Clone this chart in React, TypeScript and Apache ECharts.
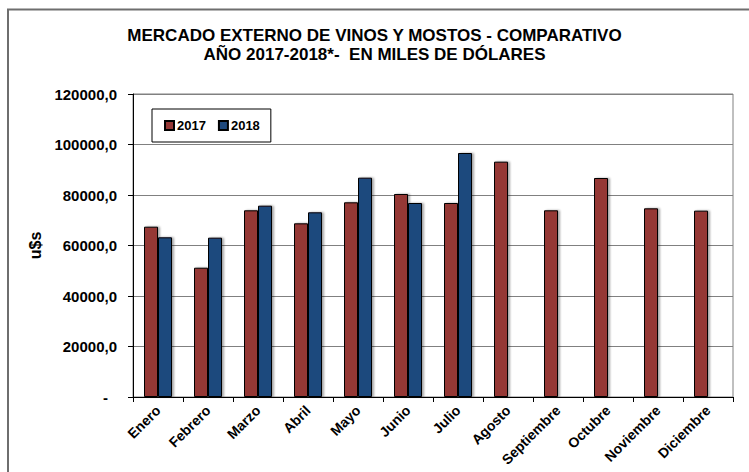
import React, { useEffect, useRef } from "react";
import * as echarts from "echarts";

const months = ["Enero", "Febrero", "Marzo", "Abril", "Mayo", "Junio", "Julio", "Agosto", "Septiembre", "Octubre", "Noviembre", "Diciembre"];
const values2017 = [67450, 51200, 73930, 68780, 77100, 80400, 76830, 93200, 73930, 86730, 74720, 73800];
const values2018 = [63240, 63100, 75770, 73140, 86860, 76830, 96630, null, null, null, null, null];
const seriesNames = ["2017", "2018"];
const titleLines = ["MERCADO EXTERNO DE VINOS Y MOSTOS - COMPARATIVO", "AÑO 2017-2018*-  EN MILES DE DÓLARES"];
const yAxisName = "u$s";

const FONT = "'Liberation Sans', Arial, sans-serif";

export default function App() {
  const ref = useRef<HTMLDivElement>(null);
  useEffect(() => {
    document.body.style.margin = "0";
    const chart = echarts.init(ref.current!, null, { renderer: "svg" });
    const barStyle = (color: string) => ({
      color,
      borderColor: "#000",
      borderWidth: 1,
      shadowColor: "rgba(0,0,0,0.35)",
      shadowOffsetX: 2,
      shadowOffsetY: 0,
      shadowBlur: 2,
    });
    chart.setOption({
      animation: false,
      backgroundColor: "#fff",
      textStyle: { fontFamily: FONT },
      title: {
        text: titleLines.join("\n"),
        left: "center",
        top: 21,
        textStyle: { fontSize: 17, fontWeight: "bold", color: "#000", lineHeight: 19, fontFamily: FONT },
      },
      graphic: [
        {
          type: "rect",
          shape: { x: 8, y: 9.5, width: 900, height: 700 },
          style: { fill: "none", stroke: "#6e6e6e", lineWidth: 2 },
          silent: true,
          z: 100,
        },
      ],
      legend: {
        left: 152,
        top: 109,
        orient: "horizontal",
        padding: [10, 11, 10, 12],
        itemWidth: 9,
        itemHeight: 9,
        itemGap: 12,
        borderColor: "#000",
        borderWidth: 1,
        backgroundColor: "#fff",
        icon: "rect",
        textStyle: { fontSize: 13, fontWeight: "bold", color: "#000", fontFamily: FONT, padding: [0, 0, 0, -2] },
        data: seriesNames,
      },
      grid: {
        left: 133,
        right: 16,
        top: 94,
        bottom: 75,
        show: true,
        borderColor: "#808080",
        borderWidth: 1,
      },
      xAxis: {
        type: "category",
        data: months,
        boundaryGap: true,
        axisLine: { show: true, lineStyle: { color: "#000", width: 1 } },
        axisTick: { show: true, length: 5, lineStyle: { color: "#000" } },
        axisLabel: {
          rotate: 45,
          margin: 11,
          fontSize: 14,
          fontWeight: "bold",
          color: "#000",
          fontFamily: FONT,
          interval: 0,
        },
      },
      yAxis: {
        type: "value",
        min: 0,
        max: 120000,
        interval: 20000,
        name: yAxisName,
        nameLocation: "middle",
        nameGap: 88,
        nameRotate: 90,
        nameTextStyle: { fontSize: 16, fontWeight: "bold", color: "#000", fontFamily: FONT },
        axisLine: { show: true, lineStyle: { color: "#000", width: 1 } },
        axisTick: { show: true, length: 5, lineStyle: { color: "#000" } },
        splitLine: { show: true, lineStyle: { color: "#808080", width: 1 } },
        axisLabel: {
          margin: 16,
          fontSize: 15,
          fontWeight: "bold",
          color: "#000",
          fontFamily: FONT,
          formatter: (v: number) => (v === 0 ? "{z|-}" : v.toFixed(1).replace(".", ",")),
          rich: { z: { fontSize: 15, fontWeight: "bold", color: "#000", padding: [0, 9, 0, 0] } },
        },
      },
      series: [
        {
          name: seriesNames[0],
          type: "bar",
          data: values2017,
          barWidth: 14,
          barGap: "0%",
          itemStyle: barStyle("#953735"),
        },
        {
          name: seriesNames[1],
          type: "bar",
          data: values2018,
          barWidth: 14,
          barGap: "0%",
          itemStyle: barStyle("#1F497D"),
        },
      ],
    });
    return () => chart.dispose();
  }, []);
  return <div ref={ref} style={{ width: 749, height: 472 }} />;
}
